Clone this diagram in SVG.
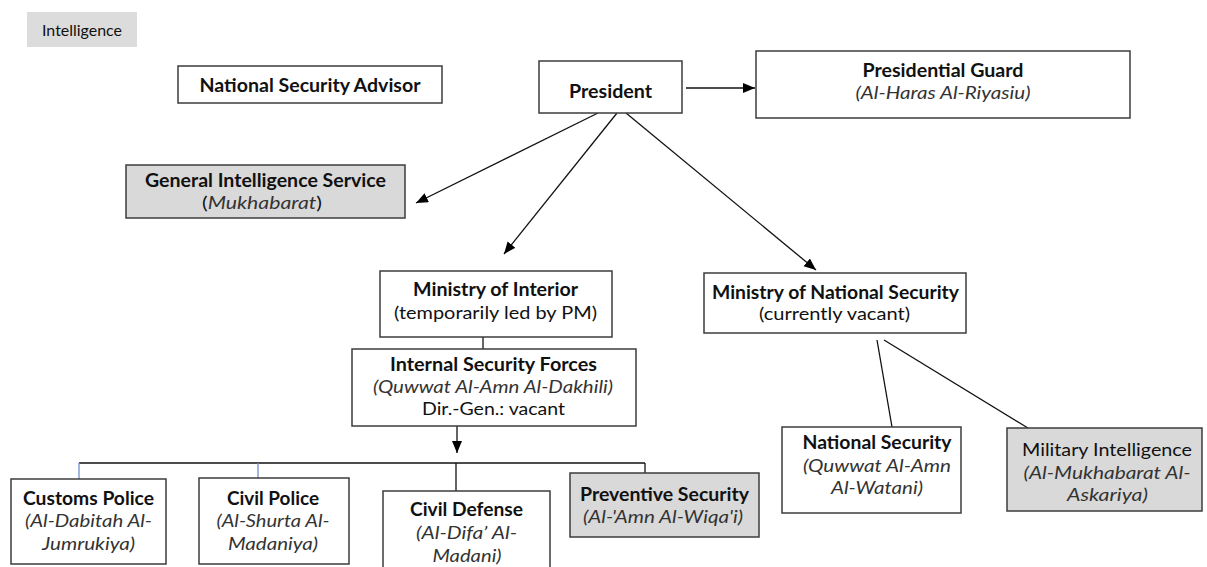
<svg xmlns="http://www.w3.org/2000/svg" width="1207" height="567" viewBox="0 0 1207 567">
<defs>
<style>
.box{fill:#fff;stroke:#3c3c3c;stroke-width:1.5}
.gray{fill:#d9d9d9;stroke:#3c3c3c;stroke-width:1.5}
.t{font-family:Lato,"Liberation Sans",sans-serif;font-size:18px;fill:#111;text-anchor:middle}
.b{font-weight:bold}
.i{font-style:italic;fill:#333}
.ln{stroke:#111;stroke-width:1.3;fill:none}
.blue{stroke:#6f8fcf;stroke-width:1.3;fill:none}
</style>
<marker id="ah" markerUnits="userSpaceOnUse" markerWidth="13" markerHeight="11" refX="12" refY="5" orient="auto">
<path d="M0,0 L12,5 L0,10 z" fill="#000"/>
</marker>
</defs>
<rect width="1207" height="567" fill="#fff"/>

<g id="legend">
<rect x="27" y="12" width="110" height="35" fill="#dcdcdc"/>
<text class="t" x="82" y="36" style="font-size:14.5px" textLength="80" lengthAdjust="spacingAndGlyphs">Intelligence</text>
</g>

<g id="connectors">
<line class="ln" x1="686" y1="88" x2="755" y2="88" marker-end="url(#ah)"/>
<line class="ln" x1="598" y1="113" x2="416" y2="203" marker-end="url(#ah)"/>
<line class="ln" x1="617" y1="113" x2="504" y2="254" marker-end="url(#ah)"/>
<line class="ln" x1="626" y1="113" x2="816" y2="270" marker-end="url(#ah)"/>
<line class="ln" x1="483" y1="337" x2="483" y2="349"/>
<line class="ln" x1="457" y1="426" x2="457" y2="453" marker-end="url(#ah)"/>
<line class="ln" x1="79" y1="463" x2="645" y2="463"/>
<line class="blue" x1="79" y1="463" x2="79" y2="479"/>
<line class="blue" x1="258" y1="463" x2="258" y2="478"/>
<line class="ln" x1="456" y1="463" x2="456" y2="491"/>
<line class="ln" x1="645" y1="463" x2="645" y2="473"/>
<line class="ln" x1="877" y1="340" x2="892" y2="427"/>
<line class="ln" x1="884" y1="340" x2="1028" y2="428"/>
</g>

<g id="nsa">
<rect class="box" x="178" y="66" width="264" height="37"/>
<text class="t b" x="310" y="92" textLength="221" lengthAdjust="spacingAndGlyphs">National Security Advisor</text>
</g>

<g id="president">
<rect class="box" x="539" y="61" width="143" height="52"/>
<text class="t b" x="610.5" y="98" textLength="83" lengthAdjust="spacingAndGlyphs">President</text>
</g>

<g id="presidential-guard">
<rect class="box" x="756" y="51" width="374" height="67"/>
<text class="t b" x="943" y="77" textLength="161" lengthAdjust="spacingAndGlyphs">Presidential Guard</text>
<text class="t i" x="943" y="99" textLength="175" lengthAdjust="spacingAndGlyphs">(Al-Haras Al-Riyasiu)</text>
</g>

<g id="gis">
<rect class="gray" x="126" y="165" width="279" height="53"/>
<text class="t b" x="265.5" y="187" textLength="241" lengthAdjust="spacingAndGlyphs">General Intelligence Service</text>
<text class="t" x="262" y="209" textLength="120" lengthAdjust="spacingAndGlyphs">(<tspan class="i">Mukhabarat</tspan>)</text>
</g>

<g id="moi">
<rect class="box" x="380" y="271" width="232" height="66"/>
<text class="t b" x="495.5" y="296" textLength="165" lengthAdjust="spacingAndGlyphs">Ministry of Interior</text>
<text class="t" x="495.5" y="319" textLength="203" lengthAdjust="spacingAndGlyphs">(temporarily led by PM)</text>
</g>

<g id="isf">
<rect class="box" x="352" y="349" width="284" height="77"/>
<text class="t b" x="493.5" y="371" textLength="207" lengthAdjust="spacingAndGlyphs">Internal Security Forces</text>
<text class="t i" x="493" y="393" textLength="240" lengthAdjust="spacingAndGlyphs">(Quwwat Al-Amn Al-Dakhili)</text>
<text class="t" x="493.5" y="415" textLength="143" lengthAdjust="spacingAndGlyphs">Dir.-Gen.: vacant</text>
</g>

<g id="mns">
<rect class="box" x="704" y="273" width="262" height="60"/>
<text class="t b" x="835.5" y="299" textLength="247" lengthAdjust="spacingAndGlyphs">Ministry of National Security</text>
<text class="t" x="834.5" y="320" textLength="151" lengthAdjust="spacingAndGlyphs">(currently vacant)</text>
</g>

<g id="national-security">
<rect class="box" x="782" y="427" width="179" height="86"/>
<text class="t b" x="877" y="449" textLength="149" lengthAdjust="spacingAndGlyphs">National Security</text>
<text class="t i" x="877" y="472" textLength="148" lengthAdjust="spacingAndGlyphs">(Quwwat Al-Amn</text>
<text class="t i" x="877" y="494" textLength="92" lengthAdjust="spacingAndGlyphs">Al-Watani)</text>
</g>

<g id="military-intelligence">
<rect class="gray" x="1007" y="428" width="195" height="83"/>
<text class="t" x="1107" y="456" textLength="170" lengthAdjust="spacingAndGlyphs">Military Intelligence</text>
<text class="t i" x="1107" y="479" textLength="167" lengthAdjust="spacingAndGlyphs">(Al-Mukhabarat Al-</text>
<text class="t i" x="1107.5" y="501" textLength="81" lengthAdjust="spacingAndGlyphs">Askariya)</text>
</g>

<g id="customs-police">
<rect class="box" x="11" y="479" width="155" height="85"/>
<text class="t b" x="88.5" y="505" textLength="131" lengthAdjust="spacingAndGlyphs">Customs Police</text>
<text class="t i" x="88.5" y="527" textLength="127" lengthAdjust="spacingAndGlyphs">(Al-Dabitah Al-</text>
<text class="t i" x="88.5" y="550" textLength="93" lengthAdjust="spacingAndGlyphs">Jumrukiya)</text>
</g>

<g id="civil-police">
<rect class="box" x="199" y="478" width="150" height="86"/>
<text class="t b" x="273" y="505" textLength="92" lengthAdjust="spacingAndGlyphs">Civil Police</text>
<text class="t i" x="273" y="527" textLength="113" lengthAdjust="spacingAndGlyphs">(Al-Shurta Al-</text>
<text class="t i" x="273" y="550" textLength="90" lengthAdjust="spacingAndGlyphs">Madaniya)</text>
</g>

<g id="civil-defense">
<rect class="box" x="383" y="491" width="167" height="90"/>
<text class="t b" x="466.5" y="516" textLength="113" lengthAdjust="spacingAndGlyphs">Civil Defense</text>
<text class="t i" x="466.5" y="539" textLength="101" lengthAdjust="spacingAndGlyphs">(Al-Difa’ Al-</text>
<text class="t i" x="467" y="562" textLength="69" lengthAdjust="spacingAndGlyphs">Madani)</text>
</g>

<g id="preventive-security">
<rect class="gray" x="570" y="473" width="189" height="64"/>
<text class="t b" x="664.5" y="501" textLength="169" lengthAdjust="spacingAndGlyphs">Preventive Security</text>
<text class="t i" x="663" y="523" textLength="160" lengthAdjust="spacingAndGlyphs">(Al-'Amn Al-Wiqa'i)</text>
</g>
</svg>
